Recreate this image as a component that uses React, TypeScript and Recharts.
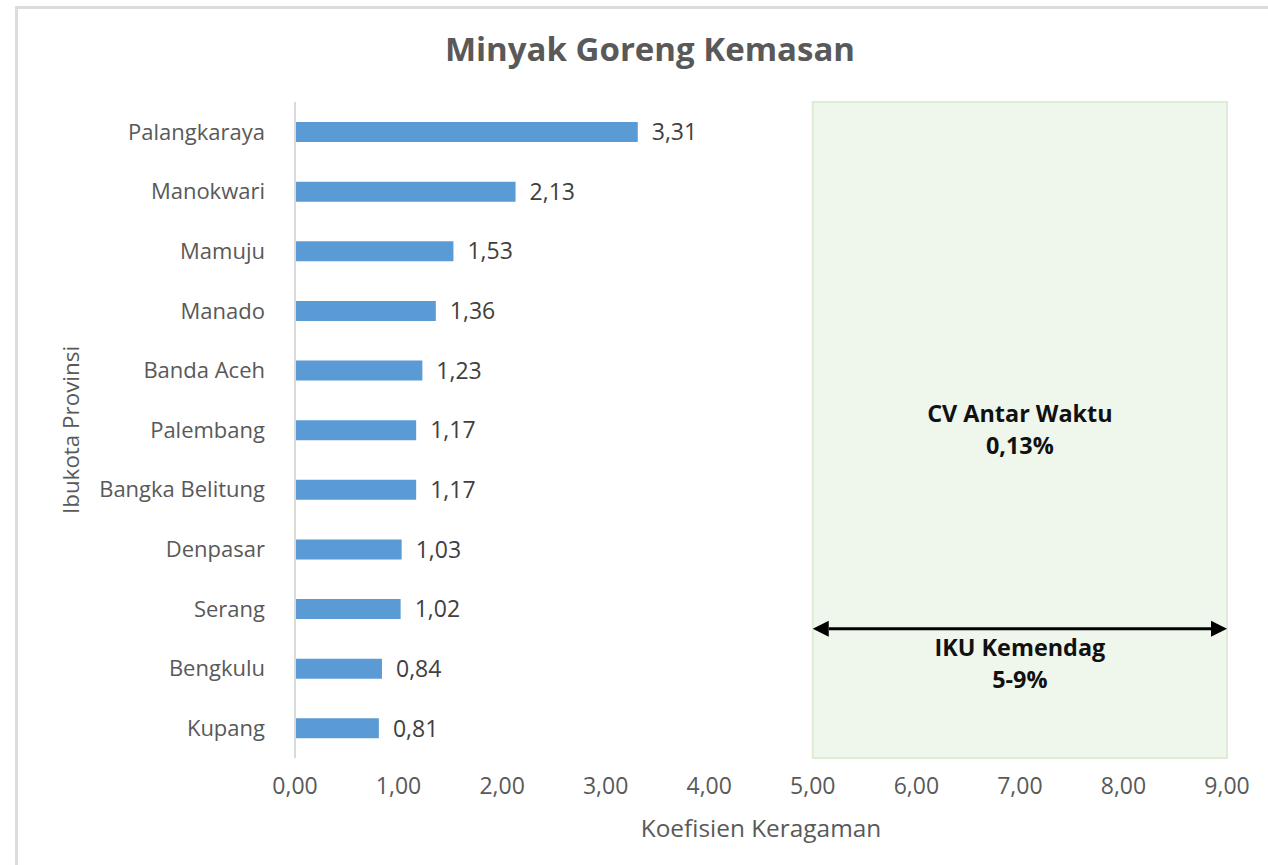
import React from "react";
import {
  BarChart,
  Bar,
  XAxis,
  YAxis,
  ReferenceArea,
  LabelList,
} from "recharts";

const categories = [
  "Palangkaraya",
  "Manokwari",
  "Mamuju",
  "Manado",
  "Banda Aceh",
  "Palembang",
  "Bangka Belitung",
  "Denpasar",
  "Serang",
  "Bengkulu",
  "Kupang",
];
const values = [3.31, 2.13, 1.53, 1.36, 1.23, 1.17, 1.17, 1.03, 1.02, 0.84, 0.81];
const xTicks = [0, 1, 2, 3, 4, 5, 6, 7, 8, 9];
const targetRange = [5, 9];
const title = "Minyak Goreng Kemasan";
const cvLabel = ["CV Antar Waktu", "0,13%"];
const ikuLabel = ["IKU Kemendag", "5-9%"];

const data = categories.map((c, i) => ({ name: c, value: values[i] }));

const FONT = "'Open Sans', 'Noto Sans', sans-serif";
const fmt = (v: number) => v.toFixed(2).replace(".", ",");

const TargetShape = (props: any) => {
  const { x, y, width, height } = props;
  const cx = x + width / 2;
  const ay = y + height * 0.803;
  const head = 16;
  const t = (yy: number, s: string) => (
    <text x={cx} y={yy} textAnchor="middle" dominantBaseline="central" fontFamily={FONT} fontWeight={700} fontSize={23.4} fill="#111">
      {s}
    </text>
  );
  return (
    <g>
      <rect x={x} y={y} width={width} height={height} fill="#eff6eb" stroke="#deecd5" strokeWidth={2} />
      <line x1={x + head} y1={ay} x2={x + width - head} y2={ay} stroke="#000" strokeWidth={3} />
      <polygon points={`${x},${ay} ${x + head},${ay - 8} ${x + head},${ay + 8}`} fill="#000" />
      <polygon
        points={`${x + width},${ay} ${x + width - head},${ay - 8} ${x + width - head},${ay + 8}`}
        fill="#000"
      />
      {t(y + height * 0.4735, cvLabel[0])}
      {t(y + height * 0.5225, cvLabel[1])}
      {t(y + height * 0.8305, ikuLabel[0])}
      {t(y + height * 0.8795, ikuLabel[1])}
    </g>
  );
};

export default function App() {
  return (
    <div style={{ position: "absolute", left: 0, top: 0, width: 1268, height: 865, background: "#fff", fontFamily: FONT, overflow: "hidden" }}>
      <div style={{ position: "absolute", left: 15, top: 6, right: 0, height: 3, background: "#dcdcdc" }} />
      <div style={{ position: "absolute", left: 15, top: 6, bottom: 0, width: 3, background: "#dcdcdc" }} />
      <div
        style={{
          position: "absolute",
          left: 16,
          width: 1268,
          top: 27,
          textAlign: "center",
          fontSize: 33,
          lineHeight: "44px",
          fontWeight: 700,
          color: "#595959",
          fontFamily: FONT,
        }}
      >
        {title}
      </div>
      <div style={{ position: "absolute", left: 0, top: 0 }}>
        <BarChart
          width={1268}
          height={865}
          data={data}
          layout="vertical"
          margin={{ top: 102, right: 41, bottom: 77, left: 0 }}
        >
          <ReferenceArea x1={targetRange[0]} x2={targetRange[1]} shape={TargetShape} ifOverflow="extendDomain" />
          <XAxis
            type="number"
            domain={[0, 9]}
            ticks={xTicks}
            tickFormatter={fmt}
            axisLine={false}
            tickLine={false}
            tickSize={0}
            tickMargin={20}
            height={30}
            tick={{ fill: "#595959", fontSize: 23, fontFamily: FONT }}
            label={{
              content: (p: any) => {
                const vb = p.viewBox;
                return (
                  <text x={vb.x + vb.width / 2} y={vb.y + 69} textAnchor="middle" dominantBaseline="central" fill="#595959" fontSize={24.4} fontFamily={FONT}>
                    Koefisien Keragaman
                  </text>
                );
              },
            }}
          />
          <YAxis
            type="category"
            dataKey="name"
            width={295}
            axisLine={{ stroke: "#d9d9d9", strokeWidth: 2 }}
            tickLine={false}
            tickSize={0}
            tickMargin={30}
            interval={0}
            tick={{ fill: "#595959", fontSize: 22, fontFamily: FONT }}
            label={{
              content: (p: any) => {
                const vb = p.viewBox;
                const cy = vb.y + vb.height / 2;
                return (
                  <text x={70} y={cy} transform={`rotate(-90, 70, ${cy})`} textAnchor="middle" dominantBaseline="central" fill="#595959" fontSize={22.4} fontFamily={FONT}>
                    Ibukota Provinsi
                  </text>
                );
              },
            }}
          />
          <Bar dataKey="value" fill="#5b9bd5" barSize={20} isAnimationActive={false}>
            <LabelList
              dataKey="value"
              position="right"
              offset={14}
              formatter={(v: any) => fmt(Number(v))}
              style={{ fill: "#404040", fontSize: 23, fontFamily: FONT }}
            />
          </Bar>
        </BarChart>
      </div>
    </div>
  );
}
